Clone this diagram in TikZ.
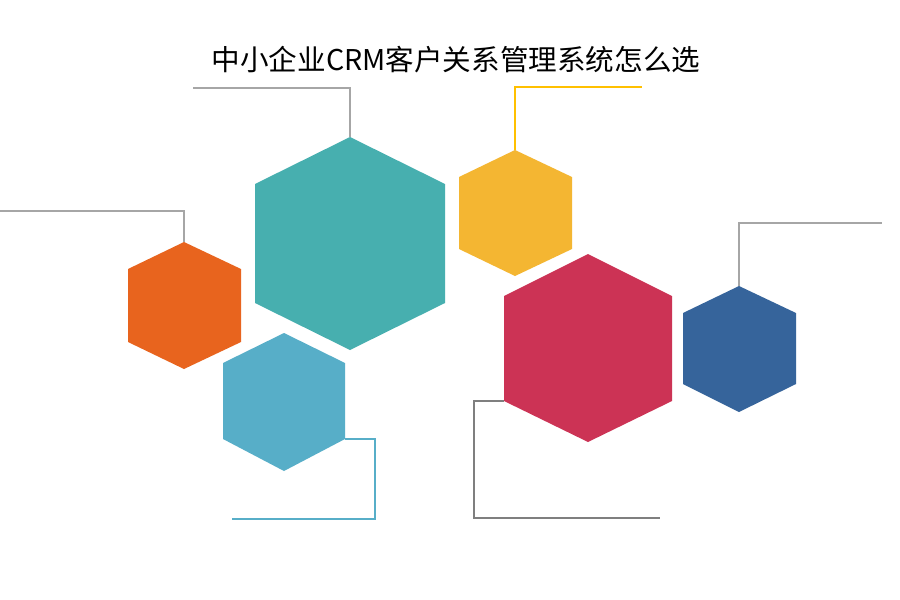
\documentclass[tikz,border=0pt]{standalone}
\usepackage{fontspec}
\newfontfamily\cjk{Noto Sans CJK SC}
\definecolor{cteal}{HTML}{47AFAF}
\definecolor{corange}{HTML}{E8641E}
\definecolor{cyellow}{HTML}{F4B632}
\definecolor{clblue}{HTML}{57AEC8}
\definecolor{cred}{HTML}{CC3355}
\definecolor{cblue}{HTML}{36649B}
\definecolor{lgray}{HTML}{A6A6A6}
\definecolor{dgray}{HTML}{7F7F7F}
\definecolor{lyellow}{HTML}{FFC000}
\tikzset{
  lead/.style={draw=#1, line width=1.8pt},
}
\begin{document}
\begin{tikzpicture}[x=1pt,y=-1pt]
\useasboundingbox (0,0) rectangle (900,600);
\fill[white] (0,0) rectangle (900,600);
% teal
\fill[cteal] (350,137) coordinate (tealT) -- (445,184) -- (445,303) -- (350,350) -- (255,303) -- (255,184) -- cycle;
% orange
\fill[corange] (184,242) coordinate (orT) -- (241,269) -- (241,342) -- (184,369) -- (128,342) -- (128,269) -- cycle;
% light blue
\fill[clblue] (284,333) -- (345,363) -- (345,439) coordinate (lbR) -- (284,471) -- (223,439) -- (223,363) -- cycle;
% yellow
\fill[cyellow] (515,150) coordinate (yeT) -- (572,177) -- (572,249) -- (515,276) -- (459,249) -- (459,177) -- cycle;
% red
\fill[cred] (588,254) -- (672,296) -- (672,401) -- (588,442) -- (504,401) coordinate (reL) -- (504,296) -- cycle;
% blue
\fill[cblue] (739,286) coordinate (blT) -- (796,313) -- (796,384) -- (739,412) -- (683,384) -- (683,313) -- cycle;
% leader ends
\coordinate (tealE) at (193,88);
\coordinate (orE) at (0,211);
\coordinate (lbE) at (232,519);
\coordinate (yeE) at (642,87);
\coordinate (reE) at (660,518);
\coordinate (blE) at (882,223);
\draw[lead=lgray] (tealT) |- (tealE);
\draw[lead=lgray] (orT) |- (orE);
\draw[lead=clblue] (lbR) -| (375,519) -- (lbE);
\draw[lead=lyellow] (yeT) |- (yeE);
\draw[lead=dgray] (reL) -| (474,518) -- (reE);
\draw[lead=lgray] (blT) |- (blE);
\node (title) at (456,60) {\cjk\fontsize{28.6}{32}\selectfont 中小企业CRM客户关系管理系统怎么选};
\end{tikzpicture}
\end{document}
